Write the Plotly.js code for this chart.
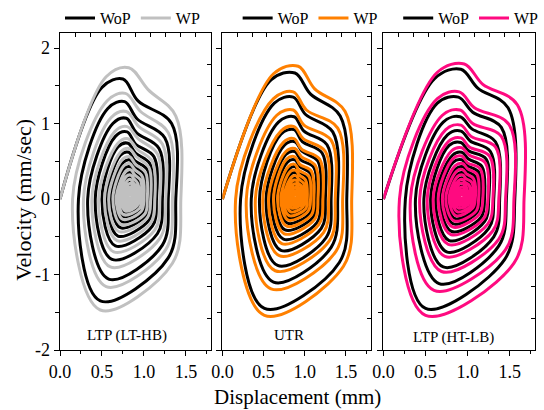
<!DOCTYPE html>
<html><head><meta charset="utf-8">
<script src="https://cdn.plot.ly/plotly-3.0.1.min.js"></script>
<style>html,body{margin:0;padding:0;background:#fff}#chart{width:544px;height:410px}</style>
</head><body><div id="chart"></div>
<script>
// ---- text / ticks ----
const seriesNames = ['WoP', 'WP'];
const panelLabels = ['LTP (LT-HB)', 'UTR', 'LTP (HT-LB)'];
const xTitle = 'Displacement (mm)';
const yTitle = 'Velocity (mm/sec)';
const xTickVals = [0, 0.5, 1.0, 1.5];
const xTickText = ['0.0', '0.5', '1.0', '1.5'];
const yTickVals = [-2, -1, 0, 1, 2];
const yTickText = ['-2', '-1', '0', '1', '2'];

// ---- phase-portrait key points ----
// each row = one loop: left crossing, top-left corner, top, shoulder, upper-right, right crossing, lower-right, bottom
// Panel 1: LTP (LT-HB)
const p1WoPx = [
  0.00, 0.50, 0.75, 0.93, 1.33, 1.38, 1.29, 0.48,
  0.22, 0.57, 0.77, 0.92, 1.25, 1.29, 1.22, 0.58,
  0.33, 0.63, 0.79, 0.91, 1.18, 1.22, 1.16, 0.62,
  0.42, 0.66, 0.80, 0.90, 1.12, 1.15, 1.10, 0.66,
  0.50, 0.69, 0.81, 0.90, 1.07, 1.10, 1.06, 0.69,
  0.56, 0.72, 0.82, 0.89, 1.04, 1.06, 1.02, 0.72,
  0.61, 0.75, 0.83, 0.89, 1.00, 1.02, 0.99, 0.74,
  0.65, 0.76, 0.83, 0.88, 0.97, 0.99, 0.97, 0.75,
  0.68, 0.79, 0.84, 0.88, 0.95, 0.96, 0.94, 0.77,
  0.71, 0.80, 0.84, 0.87, 0.92, 0.93, 0.91, 0.78,
  0.74, 0.80, 0.84, 0.87, 0.90, 0.91, 0.90, 0.79,
  0.76, 0.81, 0.84, 0.86, 0.88, 0.89, 0.88, 0.80,
  0.78, 0.82, 0.84, 0.85, 0.87, 0.88, 0.87, 0.81,
  0.80
];
const p1WoPv = [
  0, 1.48, 1.59, 1.30, 1.00, 0, -0.78, -1.35,
  0, 1.20, 1.29, 1.06, 0.81, 0, -0.61, -1.06,
  0, 1.00, 1.07, 0.88, 0.67, 0, -0.46, -0.80,
  0, 0.83, 0.89, 0.73, 0.56, 0, -0.36, -0.62,
  0, 0.69, 0.74, 0.61, 0.47, 0, -0.28, -0.49,
  0, 0.58, 0.62, 0.51, 0.39, 0, -0.22, -0.38,
  0, 0.48, 0.52, 0.43, 0.33, 0, -0.17, -0.30,
  0, 0.40, 0.43, 0.35, 0.27, 0, -0.13, -0.23,
  0, 0.33, 0.35, 0.29, 0.22, 0, -0.10, -0.17,
  0, 0.26, 0.28, 0.23, 0.18, 0, -0.07, -0.12,
  0, 0.20, 0.22, 0.18, 0.14, 0, -0.05, -0.08,
  0, 0.16, 0.17, 0.14, 0.11, 0, -0.03, -0.05,
  0, 0.12, 0.13, 0.11, 0.08, 0, -0.02, -0.03,
  0
];
const p1WPx = [
  0.00, 0.55, 0.82, 1.05, 1.38, 1.44, 1.34, 0.48,
  0.15, 0.56, 0.78, 0.96, 1.29, 1.34, 1.26, 0.55,
  0.28, 0.61, 0.79, 0.94, 1.22, 1.26, 1.19, 0.60,
  0.38, 0.65, 0.80, 0.93, 1.16, 1.19, 1.13, 0.64,
  0.46, 0.69, 0.81, 0.92, 1.10, 1.13, 1.08, 0.68,
  0.53, 0.72, 0.82, 0.91, 1.06, 1.08, 1.04, 0.70,
  0.58, 0.74, 0.83, 0.90, 1.02, 1.04, 1.01, 0.73,
  0.63, 0.76, 0.83, 0.89, 0.98, 1.00, 0.97, 0.75,
  0.67, 0.78, 0.84, 0.89, 0.96, 0.97, 0.95, 0.76,
  0.70, 0.79, 0.84, 0.88, 0.93, 0.94, 0.92, 0.78,
  0.73, 0.80, 0.84, 0.87, 0.91, 0.92, 0.90, 0.79,
  0.75, 0.81, 0.84, 0.87, 0.89, 0.90, 0.89, 0.80,
  0.77, 0.82, 0.84, 0.86, 0.87, 0.88, 0.87, 0.81,
  0.79, 0.82, 0.84, 0.85, 0.86, 0.87, 0.86, 0.82,
  0.81, 0.83, 0.84, 0.85, 0.85, 0.86, 0.85, 0.83,
  0.83
];
const p1WPv = [
  0, 1.62, 1.74, 1.45, 1.10, 0, -0.85, -1.47,
  0, 1.30, 1.40, 1.16, 0.88, 0, -0.67, -1.16,
  0, 1.08, 1.16, 0.96, 0.73, 0, -0.52, -0.90,
  0, 0.89, 0.96, 0.80, 0.60, 0, -0.41, -0.70,
  0, 0.74, 0.80, 0.66, 0.50, 0, -0.32, -0.55,
  0, 0.62, 0.67, 0.56, 0.42, 0, -0.25, -0.43,
  0, 0.52, 0.56, 0.46, 0.35, 0, -0.20, -0.34,
  0, 0.44, 0.47, 0.39, 0.30, 0, -0.16, -0.27,
  0, 0.36, 0.39, 0.32, 0.25, 0, -0.12, -0.21,
  0, 0.30, 0.32, 0.27, 0.20, 0, -0.09, -0.16,
  0, 0.24, 0.26, 0.22, 0.16, 0, -0.07, -0.12,
  0, 0.19, 0.21, 0.17, 0.13, 0, -0.05, -0.08,
  0, 0.15, 0.16, 0.13, 0.10, 0, -0.03, -0.05,
  0, 0.11, 0.12, 0.10, 0.08, 0, -0.02, -0.03,
  0, 0.07, 0.08, 0.07, 0.05, 0.01, 0.00, -0.01,
  0.03
];
// Panel 2: UTR
const p2WoPx = [
  0.00, 0.59, 0.88, 1.07, 1.43, 1.51, 1.42, 0.51,
  0.22, 0.63, 0.86, 1.01, 1.34, 1.40, 1.32, 0.62,
  0.35, 0.68, 0.87, 0.99, 1.27, 1.32, 1.26, 0.67,
  0.45, 0.71, 0.87, 0.97, 1.21, 1.25, 1.20, 0.71,
  0.53, 0.75, 0.88, 0.97, 1.16, 1.19, 1.15, 0.74,
  0.59, 0.77, 0.88, 0.95, 1.11, 1.14, 1.10, 0.76,
  0.64, 0.79, 0.88, 0.94, 1.07, 1.09, 1.06, 0.79,
  0.69, 0.81, 0.88, 0.93, 1.03, 1.05, 1.03, 0.80,
  0.72, 0.83, 0.89, 0.93, 1.00, 1.02, 1.00, 0.82,
  0.75, 0.84, 0.89, 0.92, 0.98, 0.99, 0.97, 0.83,
  0.78, 0.85, 0.89, 0.92, 0.95, 0.96, 0.95, 0.84,
  0.80, 0.86, 0.89, 0.91, 0.93, 0.94, 0.93, 0.85,
  0.82, 0.87, 0.89, 0.90, 0.92, 0.93, 0.92, 0.86,
  0.84
];
const p2WoPv = [
  0, 1.58, 1.67, 1.39, 1.10, 0, -0.84, -1.45,
  0, 1.27, 1.35, 1.12, 0.89, 0, -0.64, -1.10,
  0, 1.02, 1.09, 0.90, 0.72, 0, -0.51, -0.88,
  0, 0.86, 0.92, 0.76, 0.61, 0, -0.39, -0.68,
  0, 0.71, 0.76, 0.63, 0.50, 0, -0.31, -0.53,
  0, 0.59, 0.63, 0.52, 0.42, 0, -0.24, -0.41,
  0, 0.49, 0.52, 0.43, 0.34, 0, -0.19, -0.32,
  0, 0.40, 0.43, 0.36, 0.28, 0, -0.15, -0.25,
  0, 0.33, 0.35, 0.29, 0.23, 0, -0.11, -0.19,
  0, 0.26, 0.28, 0.23, 0.18, 0, -0.08, -0.14,
  0, 0.21, 0.22, 0.18, 0.15, 0, -0.06, -0.10,
  0, 0.16, 0.17, 0.14, 0.11, 0, -0.03, -0.06,
  0, 0.12, 0.13, 0.11, 0.08, 0, -0.02, -0.04,
  0
];
const p2WPx = [
  0.00, 0.62, 0.92, 1.12, 1.49, 1.57, 1.47, 0.51,
  0.16, 0.62, 0.86, 1.02, 1.40, 1.46, 1.38, 0.59,
  0.29, 0.66, 0.86, 0.99, 1.32, 1.37, 1.30, 0.64,
  0.40, 0.71, 0.87, 0.98, 1.25, 1.29, 1.23, 0.69,
  0.49, 0.74, 0.87, 0.96, 1.18, 1.22, 1.17, 0.72,
  0.56, 0.77, 0.88, 0.96, 1.13, 1.16, 1.12, 0.75,
  0.62, 0.78, 0.88, 0.94, 1.08, 1.11, 1.08, 0.78,
  0.67, 0.80, 0.88, 0.93, 1.05, 1.07, 1.04, 0.80,
  0.71, 0.82, 0.89, 0.93, 1.01, 1.03, 1.01, 0.81,
  0.74, 0.84, 0.89, 0.93, 0.99, 1.00, 0.98, 0.83,
  0.77, 0.85, 0.89, 0.92, 0.96, 0.97, 0.96, 0.84,
  0.79, 0.86, 0.89, 0.91, 0.94, 0.95, 0.94, 0.85,
  0.81, 0.86, 0.89, 0.91, 0.92, 0.93, 0.92, 0.86,
  0.83, 0.87, 0.89, 0.90, 0.91, 0.92, 0.91, 0.87,
  0.85, 0.88, 0.89, 0.90, 0.90, 0.91, 0.90, 0.88,
  0.88
];
const p2WPv = [
  0, 1.66, 1.76, 1.46, 1.16, 0, -0.89, -1.54,
  0, 1.33, 1.42, 1.18, 0.94, 0, -0.69, -1.19,
  0, 1.11, 1.18, 0.98, 0.78, 0, -0.55, -0.95,
  0, 0.90, 0.96, 0.80, 0.63, 0, -0.44, -0.75,
  0, 0.75, 0.80, 0.66, 0.53, 0, -0.34, -0.59,
  0, 0.63, 0.67, 0.56, 0.44, 0, -0.27, -0.46,
  0, 0.53, 0.56, 0.46, 0.37, 0, -0.21, -0.36,
  0, 0.43, 0.46, 0.38, 0.30, 0, -0.16, -0.28,
  0, 0.36, 0.38, 0.32, 0.25, 0, -0.13, -0.22,
  0, 0.29, 0.31, 0.26, 0.20, 0, -0.10, -0.17,
  0, 0.24, 0.25, 0.21, 0.17, 0, -0.07, -0.12,
  0, 0.19, 0.20, 0.17, 0.13, 0, -0.05, -0.08,
  0, 0.14, 0.15, 0.12, 0.10, 0, -0.03, -0.05,
  0, 0.10, 0.11, 0.09, 0.07, 0, -0.02, -0.03,
  0, 0.07, 0.08, 0.07, 0.05, 0.01, 0.00, -0.01,
  0.03
];
// Panel 3: LTP (HT-LB)
const p3WoPx = [
  0.00, 0.61, 0.92, 1.12, 1.48, 1.56, 1.44, 0.50,
  0.26, 0.64, 0.89, 1.06, 1.40, 1.46, 1.37, 0.66,
  0.38, 0.71, 0.91, 1.05, 1.33, 1.38, 1.31, 0.71,
  0.48, 0.76, 0.92, 1.03, 1.27, 1.31, 1.25, 0.75,
  0.56, 0.78, 0.92, 1.01, 1.22, 1.25, 1.20, 0.78,
  0.62, 0.82, 0.93, 1.01, 1.17, 1.20, 1.16, 0.81,
  0.67, 0.83, 0.93, 1.00, 1.13, 1.15, 1.11, 0.83,
  0.72, 0.86, 0.94, 0.99, 1.09, 1.11, 1.08, 0.85,
  0.76, 0.88, 0.94, 0.98, 1.05, 1.07, 1.05, 0.87,
  0.79, 0.89, 0.94, 0.98, 1.03, 1.04, 1.02, 0.88,
  0.82, 0.90, 0.94, 0.97, 1.00, 1.01, 0.99, 0.89,
  0.84, 0.91, 0.94, 0.96, 0.98, 0.99, 0.98, 0.90,
  0.86, 0.92, 0.94, 0.95, 0.97, 0.98, 0.97, 0.91,
  0.88
];
const p3WoPv = [
  0, 1.60, 1.72, 1.47, 1.21, 0, -0.80, -1.45,
  0, 1.27, 1.35, 1.15, 0.95, 0, -0.62, -1.12,
  0, 1.02, 1.09, 0.93, 0.76, 0, -0.50, -0.90,
  0, 0.85, 0.90, 0.77, 0.63, 0, -0.39, -0.70,
  0, 0.71, 0.75, 0.64, 0.53, 0, -0.30, -0.55,
  0, 0.58, 0.62, 0.53, 0.43, 0, -0.24, -0.43,
  0, 0.49, 0.52, 0.44, 0.36, 0, -0.18, -0.33,
  0, 0.40, 0.43, 0.37, 0.30, 0, -0.14, -0.26,
  0, 0.33, 0.35, 0.30, 0.25, 0, -0.11, -0.20,
  0, 0.26, 0.28, 0.24, 0.20, 0, -0.08, -0.15,
  0, 0.21, 0.22, 0.19, 0.15, 0, -0.06, -0.10,
  0, 0.16, 0.17, 0.14, 0.12, 0, -0.04, -0.07,
  0, 0.12, 0.13, 0.11, 0.09, 0, -0.02, -0.04,
  0
];
const p3WPx = [
  0.00, 0.64, 0.96, 1.18, 1.59, 1.67, 1.55, 0.50,
  0.19, 0.64, 0.90, 1.08, 1.49, 1.55, 1.45, 0.60,
  0.32, 0.70, 0.91, 1.06, 1.40, 1.45, 1.37, 0.69,
  0.43, 0.74, 0.92, 1.04, 1.33, 1.37, 1.30, 0.73,
  0.52, 0.77, 0.92, 1.02, 1.26, 1.30, 1.24, 0.77,
  0.59, 0.81, 0.93, 1.02, 1.21, 1.24, 1.19, 0.80,
  0.65, 0.83, 0.93, 1.00, 1.15, 1.18, 1.14, 0.82,
  0.70, 0.85, 0.94, 1.00, 1.11, 1.13, 1.10, 0.84,
  0.74, 0.87, 0.94, 0.99, 1.07, 1.09, 1.06, 0.86,
  0.78, 0.88, 0.94, 0.98, 1.05, 1.06, 1.04, 0.88,
  0.81, 0.89, 0.94, 0.97, 1.02, 1.03, 1.01, 0.89,
  0.83, 0.90, 0.94, 0.97, 0.99, 1.00, 0.99, 0.90,
  0.85, 0.91, 0.94, 0.96, 0.97, 0.98, 0.97, 0.91,
  0.87, 0.92, 0.94, 0.95, 0.96, 0.97, 0.96, 0.92,
  0.89, 0.93, 0.94, 0.95, 0.95, 0.96, 0.95, 0.93,
  0.92
];
const p3WPv = [
  0, 1.68, 1.79, 1.52, 1.25, 0, -0.85, -1.54,
  0, 1.33, 1.42, 1.21, 0.99, 0, -0.67, -1.21,
  0, 1.11, 1.18, 1.00, 0.83, 0, -0.53, -0.96,
  0, 0.92, 0.98, 0.83, 0.69, 0, -0.42, -0.76,
  0, 0.76, 0.81, 0.69, 0.57, 0, -0.33, -0.60,
  0, 0.64, 0.68, 0.58, 0.48, 0, -0.26, -0.47,
  0, 0.54, 0.57, 0.48, 0.40, 0, -0.20, -0.37,
  0, 0.44, 0.47, 0.40, 0.33, 0, -0.16, -0.29,
  0, 0.37, 0.39, 0.33, 0.27, 0, -0.12, -0.22,
  0, 0.30, 0.32, 0.27, 0.22, 0, -0.09, -0.17,
  0, 0.24, 0.26, 0.22, 0.18, 0, -0.07, -0.12,
  0, 0.20, 0.21, 0.18, 0.15, 0, -0.04, -0.08,
  0, 0.15, 0.16, 0.14, 0.11, 0, -0.03, -0.05,
  0, 0.11, 0.12, 0.10, 0.08, 0, -0.02, -0.03,
  0, 0.07, 0.08, 0.07, 0.05, 0.01, 0.00, -0.01,
  0.03
];

const panels = [
  {wopX: p1WoPx, wopV: p1WoPv, wpX: p1WPx, wpV: p1WPv, color: '#c0c0c0'},
  {wopX: p2WoPx, wopV: p2WoPv, wpX: p2WPx, wpV: p2WPv, color: '#ff8000'},
  {wopX: p3WoPx, wopV: p3WoPv, wpX: p3WPx, wpV: p3WPv, color: '#ff0a80'}
];

const FONT = 'Liberation Serif';
const domains = [[0, 0.318], [0.342, 0.654], [0.681, 1]];
const legendX = [0.0, 0.374, 0.712];

const traces = [];
const layout = {
  width: 544, height: 410,
  margin: {l: 60, r: 1, t: 30, b: 60},
  paper_bgcolor: '#fff', plot_bgcolor: '#fff',
  font: {family: FONT, size: 18, color: '#000'},
  showlegend: true,
  annotations: [],
};

panels.forEach((p, i) => {
  const n = i + 1;
  const xa = n === 1 ? 'x' : 'x' + n;
  const ya = n === 1 ? 'y' : 'y' + n;
  const lg = n === 1 ? 'legend' : 'legend' + n;
  traces.push({
    type: 'scatter', mode: 'lines', name: seriesNames[0],
    x: p.wopX, y: p.wopV, xaxis: xa, yaxis: ya, legend: lg,
    line: {color: '#000', width: 3, shape: 'spline', smoothing: 1}, hoverinfo: 'skip'
  });
  traces.push({
    type: 'scatter', mode: 'lines', name: seriesNames[1],
    x: p.wpX, y: p.wpV, xaxis: xa, yaxis: ya, legend: lg,
    line: {color: p.color, width: 3, shape: 'spline', smoothing: 1}, hoverinfo: 'skip'
  });
  // helper traces for mirrored tick axes
  traces.push({type: 'scatter', mode: 'lines', x: [], y: [], xaxis: 'x' + (n + 3), yaxis: ya, showlegend: false, hoverinfo: 'skip'});
  traces.push({type: 'scatter', mode: 'lines', x: [], y: [], xaxis: xa, yaxis: 'y' + (n + 3), showlegend: false, hoverinfo: 'skip'});

  const xKey = n === 1 ? 'xaxis' : 'xaxis' + n;
  const yKey = n === 1 ? 'yaxis' : 'yaxis' + n;
  layout[xKey] = {
    domain: domains[i], anchor: ya, range: [0, 1.8],
    tickmode: 'array', tickvals: xTickVals, ticktext: xTickText,
    ticks: 'outside', ticklen: 5, tickwidth: 1, tickcolor: '#000',
    minor: {tickmode: 'linear', tick0: 0, dtick: 0.25, ticks: 'outside', ticklen: 3, tickcolor: '#000', showgrid: false},
    showline: true, mirror: true, linecolor: '#000', linewidth: 1.3,
    showgrid: false, zeroline: false, tickfont: {size: 18, family: FONT}
  };
  layout[yKey] = {
    domain: [0, 1], anchor: xa, range: [-2, 2.2],
    tickmode: 'array', tickvals: yTickVals, ticktext: yTickText,
    ticks: 'outside', ticklen: 5, tickwidth: 1, tickcolor: '#000',
    minor: {tickmode: 'linear', tick0: -2, dtick: 0.5, ticks: 'outside', ticklen: 4, tickcolor: '#000', showgrid: false},
    showline: true, mirror: true, linecolor: '#000', linewidth: 1.3,
    showgrid: false, zeroline: false, showticklabels: n === 1,
    tickfont: {size: 18, family: FONT}
  };
  layout['xaxis' + (n + 3)] = {
    overlaying: xa, anchor: ya, side: 'top', range: [0, 1.8],
    tickmode: 'linear', tick0: 0, dtick: 0.18, ticks: 'inside', ticklen: 4, tickcolor: '#000',
    showticklabels: false, showline: false, showgrid: false, zeroline: false
  };
  layout['yaxis' + (n + 3)] = {
    overlaying: ya, anchor: xa, side: 'right', range: [-2, 2.2],
    tickmode: 'linear', tick0: -2, dtick: 0.42, ticks: 'inside', ticklen: 4, tickcolor: '#000',
    showticklabels: false, showline: false, showgrid: false, zeroline: false
  };
  layout[lg] = {
    orientation: 'h', x: legendX[i], xanchor: 'left', y: 1.047, yanchor: 'middle',
    font: {family: FONT, size: 16, color: '#000'}, bgcolor: 'rgba(0,0,0,0)',
    borderwidth: 0, itemwidth: 30, tracegroupgap: 0
  };
});

const labelPos = [[0.141, 0.047], [0.482, 0.047], [0.828, 0.038]];
panelLabels.forEach((t, i) => {
  layout.annotations.push({
    text: t, xref: 'paper', yref: 'paper', x: labelPos[i][0], y: labelPos[i][1],
    xanchor: 'center', yanchor: 'middle', showarrow: false,
    font: {family: FONT, size: 15, color: '#000'}
  });
});
layout.annotations.push({
  text: xTitle, xref: 'paper', yref: 'paper', x: 0.5, y: -0.148,
  xanchor: 'center', yanchor: 'middle', showarrow: false,
  font: {family: FONT, size: 21, color: '#000'}
});
layout.annotations.push({
  text: yTitle, xref: 'paper', yref: 'paper', x: -0.077, y: 0.475,
  xanchor: 'center', yanchor: 'middle', showarrow: false, textangle: -90,
  font: {family: FONT, size: 22, color: '#000'}
});

Plotly.newPlot('chart', traces, layout, {displayModeBar: false, staticPlot: true});
</script>
</body></html>
